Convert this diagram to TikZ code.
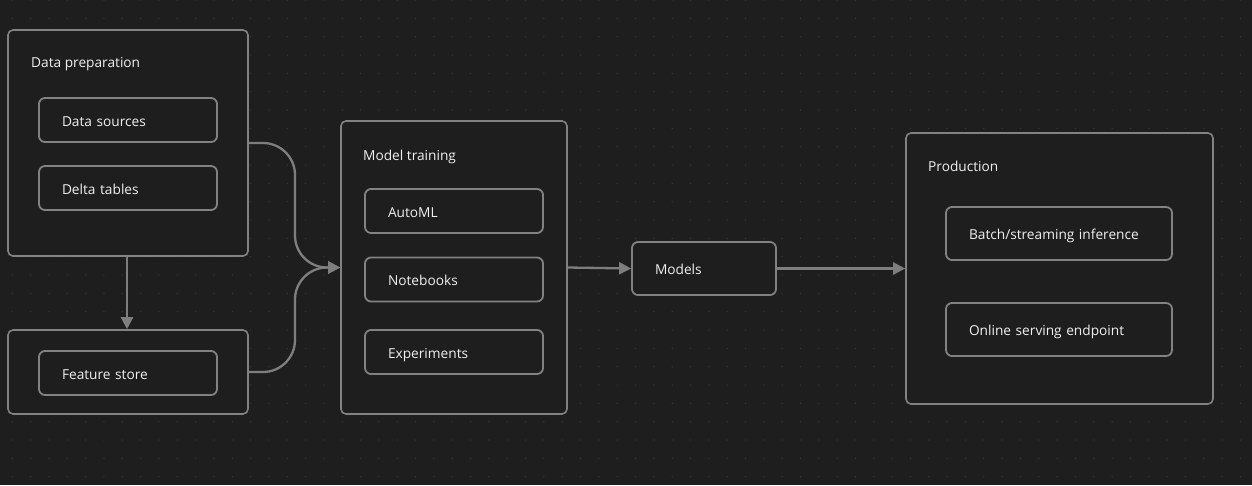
\documentclass[tikz,border=0pt]{standalone}
\usepackage{fontspec}
\setmainfont{Open Sans}
\usetikzlibrary{arrows.meta}
\definecolor{bg}{HTML}{1E1E1E}
\definecolor{dotc}{HTML}{363636}
\definecolor{edge}{HTML}{828282}
\definecolor{wire}{HTML}{7E7E7E}
\definecolor{fg}{HTML}{F0F0F0}
\tikzset{
  outerbox/.style={draw=edge, line width=1.6pt, rounded corners=5pt, fill=bg, inner sep=0pt},
  innerbox/.style={draw=edge, line width=1.8pt, rounded corners=6pt, fill=bg, text=fg,
    inner xsep=23pt, inner ysep=0pt, text height=12pt, text depth=0pt, align=left,
    font=\fontsize{13.7pt}{16pt}\selectfont},
  ttl/.style={text=fg, anchor=base west, inner sep=0pt, font=\fontsize{13.7pt}{16pt}\selectfont},
  link/.style={draw=wire, line width=2.3pt, -{Triangle[length=12pt,width=12pt]}}
}
\begin{document}
\begin{tikzpicture}[x=1pt,y=-1pt]
\fill[bg] (0,0) rectangle (1252,485);
\useasboundingbox (0,0) rectangle (1252,485);
\foreach \i in {0,...,68}{
  \foreach \j in {0,...,26}{
    \fill[dotc] ({12.3+18.33*\i},{0.1+18.33*\j}) circle (0.7);
  }
}
% Data preparation
\node[outerbox, minimum width=240pt, minimum height=226pt] (dp) at (128,143) {};
\node[ttl] (dpt) at (31,67) {Data preparation};
\node[innerbox, minimum height=44pt, text width=132pt] (ds) at (128,120) {Data sources};
\node[innerbox, minimum height=44pt, text width=132pt] (dt) at (128,188) {Delta tables};
% Feature store
\node[outerbox, minimum width=240pt, minimum height=84pt] (fso) at (128,372) {};
\node[innerbox, minimum height=44pt, text width=132pt] (fs) at (128,373) {Feature store};
% Model training
\node[outerbox, minimum width=226pt, minimum height=293pt] (mt) at (454,267.5) {};
\node[ttl] (mtt) at (363,160) {Model training};
\node[innerbox, minimum height=44pt, text width=132pt] (aml) at (454,211) {AutoML};
\node[innerbox, minimum height=44pt, text width=132pt] (nb) at (454,279.5) {Notebooks};
\node[innerbox, minimum height=44pt, text width=132pt] (ex) at (454,352) {Experiments};
% Models
\node[innerbox, minimum height=53pt, text width=98pt] (mod) at (704,268.5) {Models};
% Production
\node[outerbox, minimum width=307pt, minimum height=271pt] (prod) at (1059.5,268.5) {};
\node[ttl] (prodt) at (928,171) {Production};
\node[innerbox, minimum height=53pt, text width=180pt] (bsi) at (1059,233.5) {Batch/streaming inference};
\node[innerbox, minimum height=53pt, text width=180pt] (ose) at (1059,329.5) {Online serving endpoint};
% connectors
\coordinate (j) at (295,267.5);
\draw[link, rounded corners=32pt] (dp.east) -| (j) -- (mt.west);
\draw[link, rounded corners=32pt] (fso.east) -| (j) -- (mt.west);
\draw[link] (dp.south -| 127,0) -- (fso.north -| 127,0);
\draw[link] (mt.east) -- (mod.west);
\draw[link] (mod.east) -- (prod.west);
\end{tikzpicture}
\end{document}
